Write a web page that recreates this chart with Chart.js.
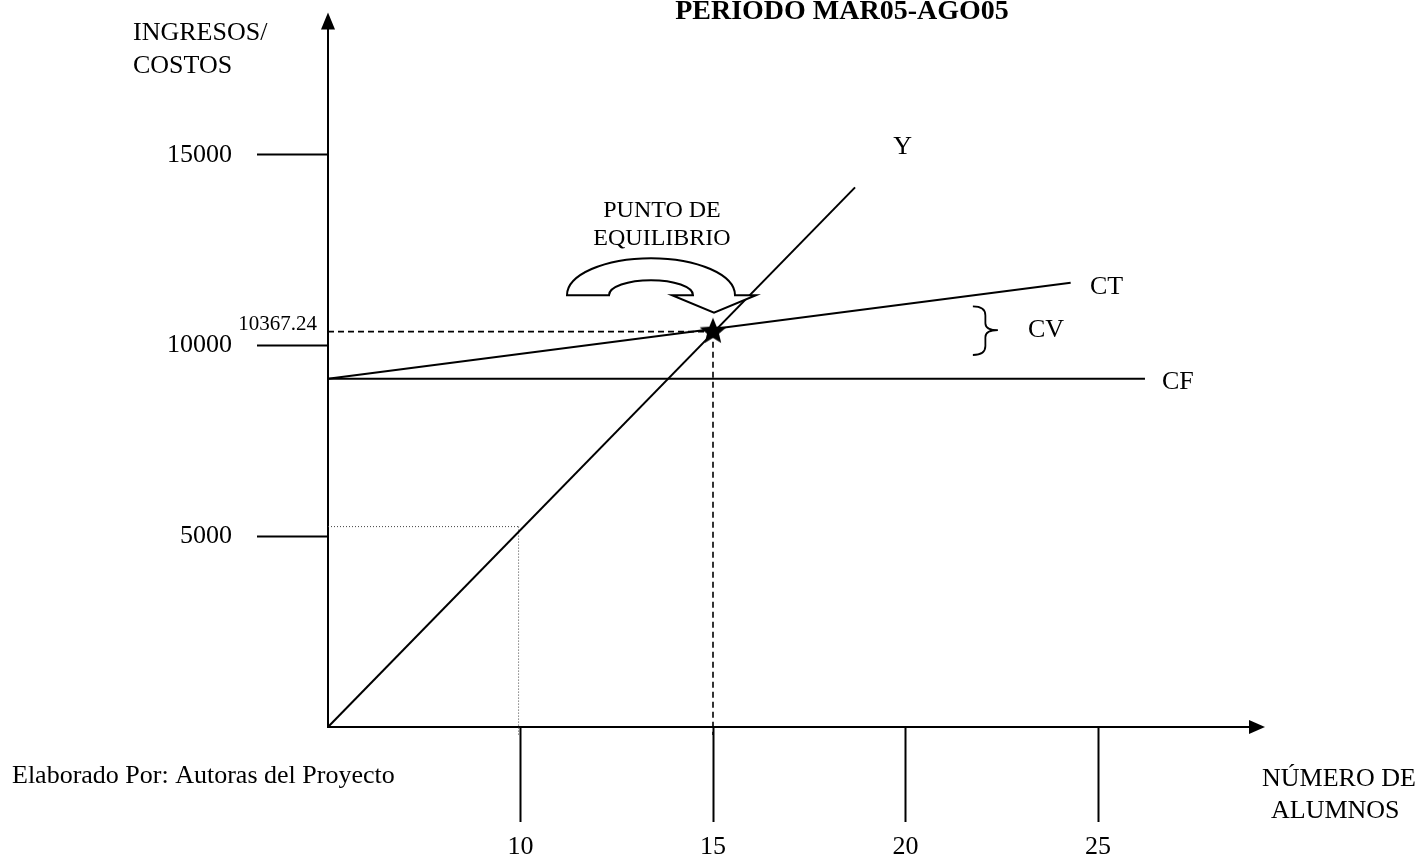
<!DOCTYPE html>
<html>
<head>
<meta charset="utf-8">
<script src="https://cdn.jsdelivr.net/npm/chart.js@4.4.1/dist/chart.umd.min.js"></script>
<style>
html, body { margin: 0; padding: 0; background: #ffffff; }
canvas { display: block; }
</style>
</head>
<body>
<canvas id="c" width="1424" height="863"></canvas>
<script>
const FONT = '"Liberation Serif", "Times New Roman", Times, serif';

// ---- Data ----
const xTickValues = [10, 15, 20, 25];
const yTickValues = [5000, 10000, 15000];
const ingresosX = [5, 18.69];
const ingresosY = [0, 14150];
const costoTotalX = [5, 24.29];
const costoTotalY = [9131, 11647];
const costoFijoX = [5, 26.22];
const costoFijoY = [9131, 9131];
const equilibrioX = 15;
const equilibrioY = 10367.24;
const guiaX = 9.95;
const guiaY = 5255;
const bajoEjeY = -210;
const equilibrioLabel = '10367.24';

function pts(xs, ys) { return xs.map((v, i) => ({ x: v, y: ys[i] })); }

function starCanvas(r) {
  const s = Math.ceil(r * 2 + 4);
  const c = document.createElement('canvas');
  c.width = s; c.height = s;
  const g = c.getContext('2d');
  g.beginPath();
  for (let i = 0; i < 10; i++) {
    const ang = -Math.PI / 2 + i * Math.PI / 5;
    const rr = (i % 2) ? r * 0.45 : r;
    g.lineTo(s / 2 + rr * Math.cos(ang), s / 2 + rr * Math.sin(ang));
  }
  g.closePath();
  g.fillStyle = '#000';
  g.fill();
  return c;
}

const decor = {
  id: 'decor',
  afterDraw(chart) {
    const { ctx, chartArea: a, scales: { x, y } } = chart;
    const X = v => x.getPixelForValue(v);
    const Y = v => y.getPixelForValue(v);
    ctx.save();
    ctx.fillStyle = '#000';
    ctx.strokeStyle = '#000';
    ctx.lineWidth = 2;

    // axis arrows
    ctx.beginPath(); ctx.moveTo(a.left, a.top); ctx.lineTo(a.left, a.top - 12); ctx.stroke();
    ctx.beginPath(); ctx.moveTo(a.left, a.top - 28); ctx.lineTo(a.left - 7, a.top - 11); ctx.lineTo(a.left + 7, a.top - 11); ctx.closePath(); ctx.fill();
    ctx.beginPath(); ctx.moveTo(a.right, a.bottom); ctx.lineTo(a.right + 2, a.bottom); ctx.stroke();
    ctx.beginPath(); ctx.moveTo(a.right + 13, a.bottom); ctx.lineTo(a.right - 3, a.bottom - 7); ctx.lineTo(a.right - 3, a.bottom + 7); ctx.closePath(); ctx.fill();

    // curved arrow pointing at the break-even point
    const sx = X(equilibrioX), sy = Y(equilibrioY);
    const cx = sx - 62, cy = sy - 36.5;
    ctx.beginPath();
    ctx.moveTo(cx - 84, cy);
    ctx.ellipse(cx, cy, 84, 37, 0, Math.PI, 2 * Math.PI, false);
    ctx.lineTo(sx + 43, cy);
    ctx.lineTo(sx + 1, sy - 19);
    ctx.lineTo(sx - 41, cy);
    ctx.lineTo(cx + 42, cy);
    ctx.ellipse(cx, cy, 42, 15, 0, 0, Math.PI, true);
    ctx.closePath();
    ctx.fillStyle = '#fff';
    ctx.fill();
    ctx.stroke();

    // brace for CV
    const bx0 = X(21.75), bx1 = X(22.40), bm = (bx0 + bx1) / 2;
    const by0 = Y(11030), byM = Y(10406), by1 = Y(9755);
    ctx.lineWidth = 1.8;
    ctx.beginPath();
    ctx.moveTo(bx0, by0);
    ctx.quadraticCurveTo(bm, by0, bm, by0 + 9);
    ctx.lineTo(bm, byM - 7);
    ctx.quadraticCurveTo(bm, byM, bx1, byM);
    ctx.quadraticCurveTo(bm, byM, bm, byM + 7);
    ctx.lineTo(bm, by1 - 9);
    ctx.quadraticCurveTo(bm, by1, bx0, by1);
    ctx.stroke();

    // texts
    ctx.fillStyle = '#000';
    ctx.textBaseline = 'alphabetic';
    ctx.font = '26px ' + FONT;
    ctx.textAlign = 'left';
    ctx.fillText('INGRESOS/', 133, 40);
    ctx.fillText('COSTOS', 133, 73);
    ctx.fillText('Y', X(19.68), Y(15036));
    ctx.fillText('CT', X(24.79), Y(11368));
    ctx.fillText('CV', X(23.18), Y(10223));
    ctx.fillText('CF', X(26.66), Y(8858));
    ctx.fillText('Elaborado Por: Autoras del Proyecto', 12, 783);
    ctx.fillText('NÚMERO DE', a.right + 10, 786);
    ctx.fillText('ALUMNOS', a.right + 19, 818);

    ctx.font = '21px ' + FONT;
    ctx.textAlign = 'right';
    ctx.fillText(equilibrioLabel, a.left - 11, Y(equilibrioY) - 2);

    ctx.font = '24px ' + FONT;
    ctx.textAlign = 'center';
    ctx.fillText('PUNTO DE', sx - 51, sy - 115);
    ctx.fillText('EQUILIBRIO', sx - 51, sy - 87);

    ctx.font = 'bold 28px ' + FONT;
    ctx.fillText('PERIODO MAR05-AGO05', 842, 19);
    ctx.restore();
  }
};

const lineBase = { showLine: true, pointRadius: 0, pointHoverRadius: 0, borderColor: '#000', fill: false, tension: 0, clip: false };

new Chart(document.getElementById('c'), {
  type: 'scatter',
  data: {
    datasets: [
      { label: 'Punto de equilibrio', data: [{ x: equilibrioX, y: equilibrioY }], pointStyle: starCanvas(14), showLine: false, clip: false, order: 0 },
      { ...lineBase, label: 'Y', data: pts(ingresosX, ingresosY), borderWidth: 2, order: 1 },
      { ...lineBase, label: 'CT', data: pts(costoTotalX, costoTotalY), borderWidth: 2, order: 2 },
      { ...lineBase, label: 'CF', data: pts(costoFijoX, costoFijoY), borderWidth: 2, order: 3 },
      { ...lineBase, label: 'guia h', data: [{ x: 5, y: equilibrioY }, { x: equilibrioX, y: equilibrioY }], borderWidth: 1.6, borderDash: [6, 4], order: 4 },
      { ...lineBase, label: 'guia v', data: [{ x: equilibrioX, y: equilibrioY }, { x: equilibrioX, y: bajoEjeY }], borderWidth: 1.6, borderDash: [6, 4], order: 5 },
      { ...lineBase, label: 'dot h', data: [{ x: 5, y: guiaY }, { x: guiaX, y: guiaY }], borderWidth: 1, borderDash: [1, 2], borderColor: '#444', order: 6 },
      { ...lineBase, label: 'dot v', data: [{ x: guiaX, y: guiaY }, { x: guiaX, y: bajoEjeY }], borderWidth: 1, borderDash: [1, 2], borderColor: '#444', order: 7 }
    ]
  },
  options: {
    responsive: false,
    animation: false,
    devicePixelRatio: 1,
    layout: { padding: { top: 35, right: 172, left: 0, bottom: 0 } },
    plugins: { legend: { display: false }, tooltip: { enabled: false }, title: { display: false } },
    scales: {
      x: {
        type: 'linear', min: 5, max: 29,
        afterBuildTicks: s => { s.ticks = xTickValues.map(v => ({ value: v })); },
        afterFit: s => { s.height = 136; },
        grid: { drawOnChartArea: false, drawTicks: true, tickLength: 95, tickWidth: 2, tickColor: '#000' },
        border: { display: true, color: '#000', width: 2 },
        ticks: { color: '#000', font: { family: FONT, size: 26 }, padding: 10, maxRotation: 0, autoSkip: false }
      },
      y: {
        type: 'linear', min: 0, max: 18000,
        afterBuildTicks: s => { s.ticks = yTickValues.map(v => ({ value: v })); },
        afterFit: s => { s.width = 328; },
        grid: { drawOnChartArea: false, drawTicks: true, tickLength: 71, tickWidth: 2, tickColor: '#000' },
        border: { display: true, color: '#000', width: 2 },
        ticks: { color: '#000', font: { family: FONT, size: 26 }, padding: 25, callback: v => String(v) }
      }
    }
  },
  plugins: [decor]
});
</script>
</body>
</html>
